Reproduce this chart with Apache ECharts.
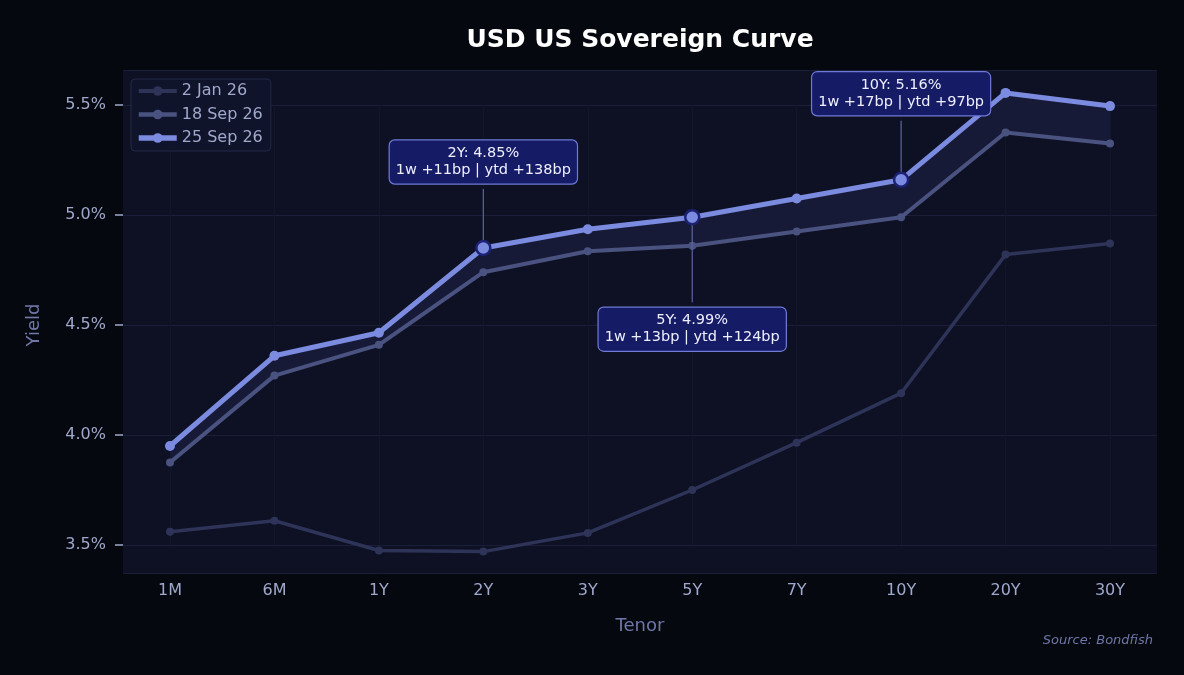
<!DOCTYPE html>
<html>
<head>
<meta charset="utf-8">
<script src="https://cdn.jsdelivr.net/npm/echarts@6/dist/echarts.min.js"></script>
<style>
  html, body { margin: 0; padding: 0; background: #05080f; }
  #main { width: 1184px; height: 675px; }
</style>
</head>
<body>
<div id="main"></div>
<script>
// curve data
const tenors = ['1M', '6M', '1Y', '2Y', '3Y', '5Y', '7Y', '10Y', '20Y', '30Y'];
const curveJan2 = [3.56, 3.61, 3.475, 3.47, 3.555, 3.75, 3.965, 4.19, 4.82, 4.87];
const curveSep18 = [3.875, 4.27, 4.41, 4.74, 4.835, 4.86, 4.925, 4.99, 5.375, 5.325];
const curveSep25 = [3.95, 4.36, 4.465, 4.85, 4.935, 4.99, 5.075, 5.16, 5.555, 5.495];
const seriesNames = ['2 Jan 26', '18 Sep 26', '25 Sep 26'];
const calloutTenors = ['2Y', '5Y', '10Y'];

const chart = echarts.init(document.getElementById('main'));

const colors = ['#2e3358', '#4a5280', '#7b8be0'];
const widths = [3.5, 4, 5];

const bandDiff = curveSep25.map((v, i) => +(v - curveSep18[i]).toFixed(4));
const sep25Data = curveSep25.map((v, i) => {
  if (calloutTenors.indexOf(tenors[i]) < 0) return v;
  return { value: v, symbolSize: 14, itemStyle: { borderColor: '#1c2272', borderWidth: 2.5 } };
});

const option = {
  backgroundColor: '#05080f',
  animation: false,
  textStyle: { fontFamily: 'DejaVu Sans' },
  title: {
    text: 'USD US Sovereign Curve',
    left: 635, top: 23, textAlign: 'center',
    textStyle: { color: '#ffffff', fontSize: 25, fontWeight: 'bold' }
  },
  legend: {
    data: seriesNames.map((n, k) => ({ name: n, lineStyle: { width: widths[k] + 0.5 } })),
    orient: 'vertical', left: 131, top: 79,
    itemWidth: 38, itemHeight: 12, itemGap: 7.5,
    backgroundColor: '#10142a', borderColor: '#232849', borderWidth: 1, borderRadius: 4,
    padding: [4, 8, 5, 5],
    textStyle: { color: '#a0a8cc', fontSize: 16 }
  },
  grid: [
    { left: 123, right: 27, top: 70, bottom: 102, show: true, backgroundColor: '#0e1124', borderWidth: 0 },
    { left: 170, right: 74, top: 105, bottom: 130 }
  ],
  xAxis: [
    { gridIndex: 0, type: 'value', min: 0, max: 1, show: false },
    {
      gridIndex: 1, type: 'category', data: tenors, boundaryGap: false,
      axisLine: { show: false }, axisTick: { show: false },
      axisLabel: { color: '#a0a8cc', fontSize: 16, margin: 38 },
      splitLine: { show: true, lineStyle: { color: '#12162b' } },
      name: 'Tenor', nameLocation: 'middle', nameGap: 72,
      nameTextStyle: { color: '#6f77a8', fontSize: 18 }
    }
  ],
  yAxis: [
    {
      gridIndex: 0, type: 'value', min: 3.373, max: 5.659,
      axisLabel: { show: false }, axisTick: { show: false }, axisLine: { show: false },
      splitLine: { lineStyle: { color: '#1a1e38' } }
    },
    {
      gridIndex: 1, type: 'value', min: 3.5, max: 5.5, interval: 0.5, offset: 47,
      axisLine: { show: false },
      axisTick: { show: true, length: 8, lineStyle: { color: '#a0a8cc', width: 1.5 } },
      axisLabel: { color: '#a0a8cc', fontSize: 16, margin: 17, formatter: v => v.toFixed(1) + '%' },
      splitLine: { show: false },
      name: 'Yield', nameLocation: 'middle', nameGap: 80,
      nameTextStyle: { color: '#6f77a8', fontSize: 18 }
    }
  ],
  series: [
    {
      name: 'band-base', type: 'line', xAxisIndex: 1, yAxisIndex: 1, stack: 'band',
      data: curveSep18, symbol: 'none', lineStyle: { opacity: 0 }, silent: true, clip: false
    },
    {
      name: 'band-diff', type: 'line', xAxisIndex: 1, yAxisIndex: 1, stack: 'band',
      data: bandDiff, symbol: 'none', lineStyle: { opacity: 0 },
      areaStyle: { color: '#171a36', opacity: 1 }, silent: true, clip: false
    },
    {
      name: seriesNames[0], type: 'line', xAxisIndex: 1, yAxisIndex: 1, data: curveJan2,
      color: colors[0], symbol: 'circle', symbolSize: 8,
      lineStyle: { width: widths[0] }, clip: false
    },
    {
      name: seriesNames[1], type: 'line', xAxisIndex: 1, yAxisIndex: 1, data: curveSep18,
      color: colors[1], symbol: 'circle', symbolSize: 8,
      lineStyle: { width: widths[1] }, clip: false
    },
    {
      name: seriesNames[2], type: 'line', xAxisIndex: 1, yAxisIndex: 1, data: sep25Data,
      color: colors[2], symbol: 'circle', symbolSize: 10,
      lineStyle: { width: widths[2] }, clip: false
    }
  ]
};
chart.setOption(option);

// callout boxes pinned to the 25 Sep points
const gfx = [];
calloutTenors.forEach(t => {
  const i = tenors.indexOf(t);
  const v = curveSep25[i];
  const p = chart.convertToPixel({ seriesIndex: 4 }, [i, v]);
  const below = t === '5Y';
  const cy = below ? p[1] + 112 : p[1] - 86;
  const w1 = Math.round((v - curveSep18[i]) * 100);
  const ytd = Math.round((v - curveJan2[i]) * 100);
  const txt = t + ': ' + v.toFixed(2) + '%\n1w +' + w1 + 'bp | ytd +' + ytd + 'bp';
  const y1 = below ? p[1] + 8 : cy + 27;
  const y2 = below ? cy - 27 : p[1] - 8;
  gfx.push({
    type: 'line', z: 90,
    shape: { x1: p[0], y1: y1, x2: p[0], y2: y2 },
    style: { stroke: '#5c64a0', lineWidth: 1.2 }
  });
  gfx.push({
    type: 'text', z: 100, x: p[0], y: cy,
    style: {
      text: txt, fill: '#eef0ff', fontSize: 14.5, fontFamily: 'DejaVu Sans',
      align: 'center', verticalAlign: 'middle', lineHeight: 17,
      backgroundColor: '#161b66', borderColor: '#6f7ad6', borderWidth: 1.2,
      borderRadius: 5, padding: [5, 6, 4, 6]
    }
  });
});
gfx.push({
  type: 'text', right: 31, top: 634,
  style: { text: 'Source: Bondfish', fill: '#6f77a8', fontSize: 13, fontStyle: 'italic', fontFamily: 'DejaVu Sans' }
});
chart.setOption({ graphic: gfx });
</script>
</body>
</html>
